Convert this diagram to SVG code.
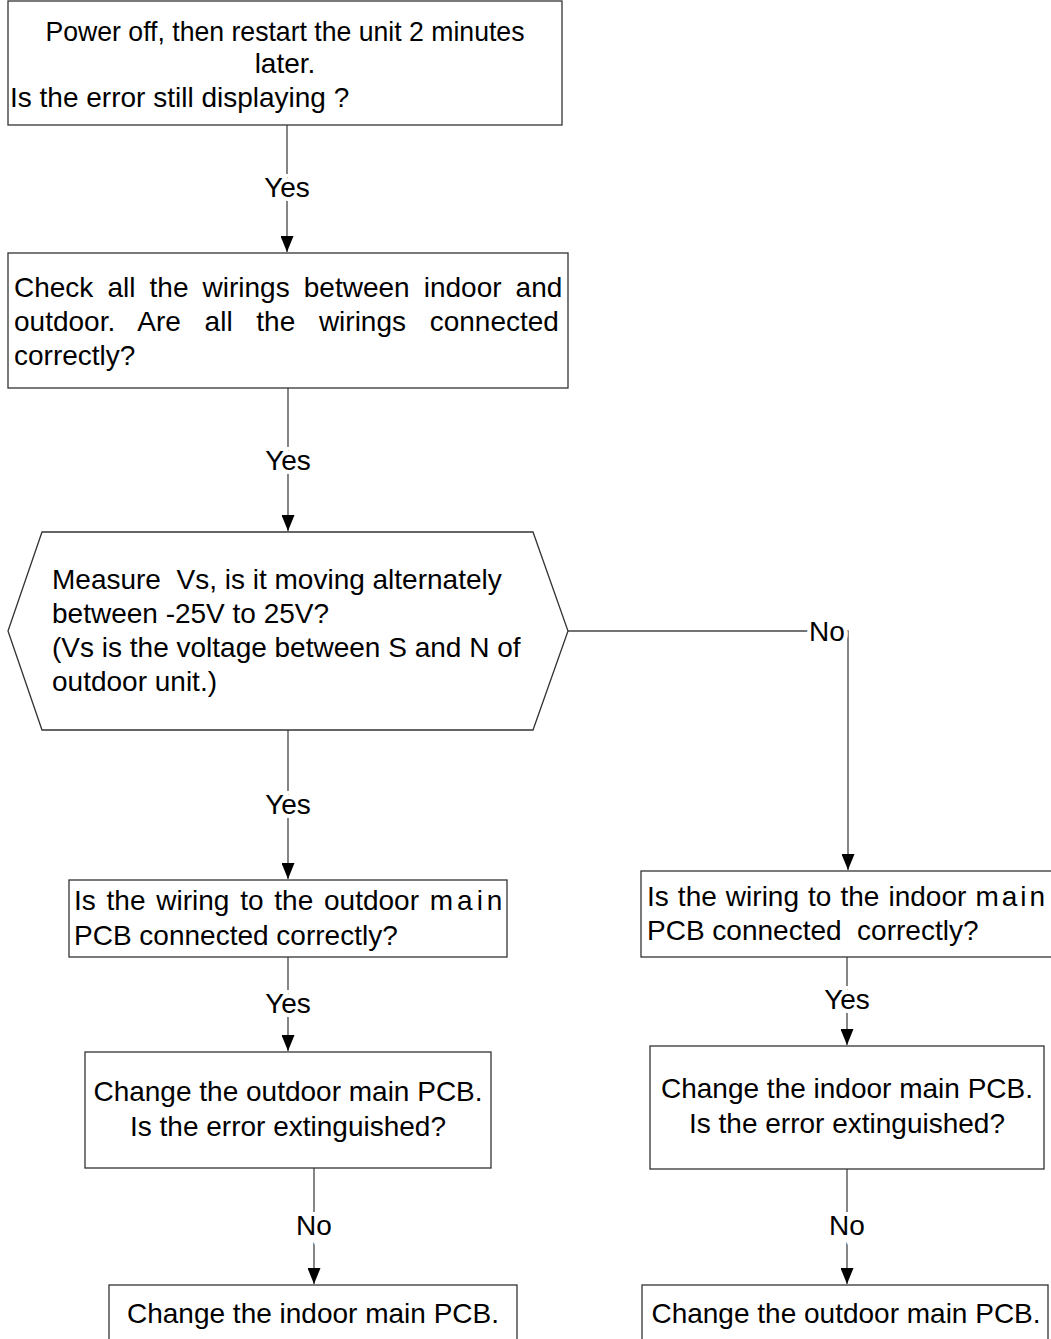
<svg xmlns="http://www.w3.org/2000/svg" width="1051" height="1339" viewBox="0 0 1051 1339">
<style>
.box{fill:#fff;stroke:#333;stroke-width:1.3}
.t{font-family:"Liberation Sans",Arial,sans-serif;font-size:28px;fill:#000;white-space:pre}
.c{text-anchor:middle}
.ln{fill:none;stroke:#444;stroke-width:1.3}
.lbl{font-family:"Liberation Sans",Arial,sans-serif;font-size:28px;fill:#000;text-anchor:middle;stroke:#fff;stroke-width:8;paint-order:stroke}
</style>
<defs>
<marker id="ahv" markerUnits="userSpaceOnUse" markerWidth="13" markerHeight="16" viewBox="0 0 13 16" refX="6.5" refY="16" orient="0">
<path d="M0,0 L13,0 L6.5,16 Z" fill="#000"/>
</marker>
</defs>
<g id="connectors">
<path class="ln" d="M287,125 V252" marker-end="url(#ahv)"/>
<path class="ln" d="M288,388 V531" marker-end="url(#ahv)"/>
<path class="ln" d="M288,730 V879" marker-end="url(#ahv)"/>
<path class="ln" d="M568,631 H848 V870" marker-end="url(#ahv)"/>
<path class="ln" d="M288,957 V1051" marker-end="url(#ahv)"/>
<path class="ln" d="M847,957 V1045" marker-end="url(#ahv)"/>
<path class="ln" d="M314,1168 V1284" marker-end="url(#ahv)"/>
<path class="ln" d="M847,1169 V1284" marker-end="url(#ahv)"/>
<text class="lbl" x="287" y="197">Yes</text>
<text class="lbl" x="288" y="470">Yes</text>
<text class="lbl" x="827" y="641">No</text>
<text class="lbl" x="288" y="814">Yes</text>
<text class="lbl" x="288" y="1013">Yes</text>
<text class="lbl" x="847" y="1009">Yes</text>
<text class="lbl" x="314" y="1235">No</text>
<text class="lbl" x="847" y="1235">No</text>
</g>
<g id="n1">
<rect class="box" x="8" y="1" width="554" height="124"/>
<text class="t c" x="285" y="41" textLength="479" lengthAdjust="spacingAndGlyphs">Power off, then restart the unit 2 minutes</text>
<text class="t c" x="285" y="73">later.</text>
<text class="t" x="10" y="107">Is the error still displaying ?</text>
</g>
<g id="n2">
<rect class="box" x="8" y="253" width="560" height="135"/>
<text class="t" x="14" y="297" word-spacing="6.3">Check all the wirings between indoor and</text>
<text class="t" x="14" y="331" word-spacing="15.9">outdoor. Are all the wirings connected</text>
<text class="t" x="14" y="365">correctly?</text>
</g>
<g id="n3">
<polygon class="box" points="42,532 533,532 568,631 533,730 42,730 8,631"/>
<text class="t" x="52" y="589">Measure  Vs, is it moving alternately</text>
<text class="t" x="52" y="623">between -25V to 25V?</text>
<text class="t" x="52" y="657">(Vs is the voltage between S and N of</text>
<text class="t" x="52" y="691">outdoor unit.)</text>
</g>
<g id="n4">
<rect class="box" x="69" y="880" width="438" height="77"/>
<text class="t" x="74" y="910" word-spacing="3">Is the wiring to the outdoor <tspan letter-spacing="4">main</tspan></text>
<text class="t" x="74" y="945">PCB connected correctly?</text>
</g>
<g id="n5">
<rect class="box" x="641" y="871" width="420" height="86"/>
<text class="t" x="647" y="906" word-spacing="1.3">Is the wiring to the indoor <tspan letter-spacing="3">main</tspan></text>
<text class="t" x="647" y="940">PCB connected  correctly?</text>
</g>
<g id="n6">
<rect class="box" x="85" y="1052" width="406" height="116"/>
<text class="t c" x="288" y="1101">Change the outdoor main PCB.</text>
<text class="t c" x="288" y="1136">Is the error extinguished?</text>
</g>
<g id="n7">
<rect class="box" x="650" y="1046" width="394" height="123"/>
<text class="t c" x="847" y="1098">Change the indoor main PCB.</text>
<text class="t c" x="847" y="1133">Is the error extinguished?</text>
</g>
<g id="n8">
<rect class="box" x="109" y="1285" width="408" height="70"/>
<text class="t c" x="313" y="1323">Change the indoor main PCB.</text>
</g>
<g id="n9">
<rect class="box" x="642" y="1285" width="406" height="70"/>
<text class="t c" x="846" y="1323">Change the outdoor main PCB.</text>
</g>
</svg>
